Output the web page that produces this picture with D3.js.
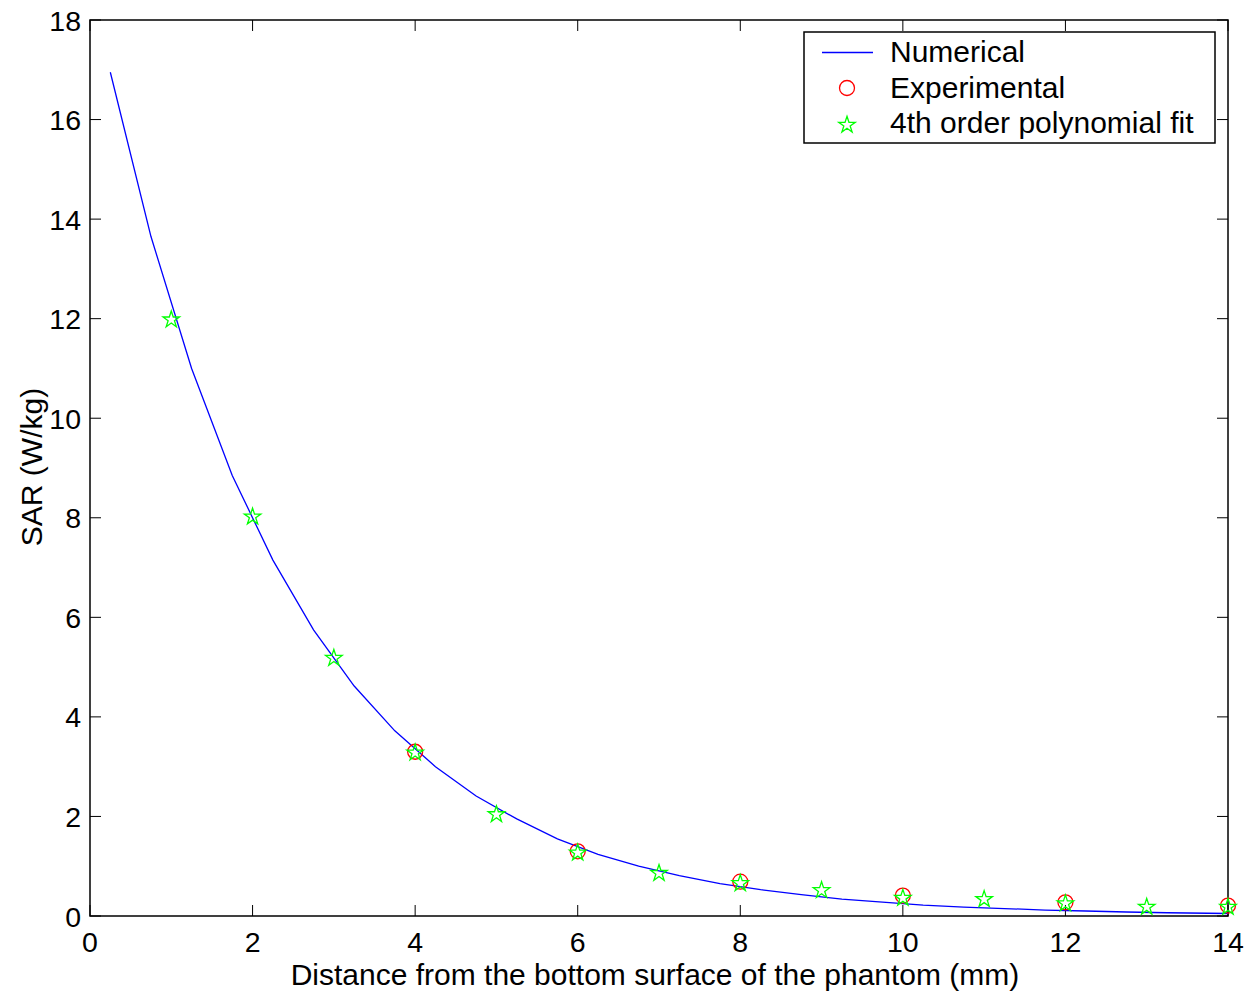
<!DOCTYPE html>
<html><head><meta charset="utf-8">
<script src="https://cdn.jsdelivr.net/npm/d3@7"></script>
<style>body{margin:0;background:#fff}svg{display:block}text{font-family:"Liberation Sans",Arial,sans-serif;fill:#000}</style>
</head><body><svg id="c" width="1257" height="998"></svg>
<script>
const numX = [0.25,0.75,1.25,1.75,2.25,2.75,3.25,3.75,4.25,4.75,5.25,5.75,6.25,6.75,7.25,7.75,8.25,8.75,9.25,9.75,10.25,10.75,11.25,11.75,12.25,12.75,13.25,13.75,14.0];
const numY = [16.95,13.65,11.0,8.85,7.15,5.75,4.62,3.72,3.0,2.41,1.95,1.55,1.24,1.0,0.81,0.65,0.53,0.43,0.34,0.28,0.22,0.18,0.15,0.12,0.10,0.08,0.065,0.055,0.05];
const expX = [4,6,8,10,12,14];
const expY = [3.3,1.3,0.69,0.41,0.275,0.21];
const fitX = [1,2,3,4,5,6,7,8,9,10,11,12,13,14];
const fitY = [12.0,8.04,5.2,3.3,2.06,1.29,0.88,0.675,0.535,0.38,0.355,0.27,0.2,0.2];
const xTicks = [0,2,4,6,8,10,12,14];
const yTicks = [0,2,4,6,8,10,12,14,16,18];
const legendLabels = ["Numerical","Experimental","4th order polynomial fit"];

const L=90,R=1228,T=20,B=916;
const svg=d3.select("#c");
const x=d3.scaleLinear().domain([0,14]).range([L,R]);
const y=d3.scaleLinear().domain([0,18]).range([B,T]);
const tl=11, fs=28.5;

const g=svg.append("g");
g.selectAll(".xb").data(xTicks).join("line").attr("x1",d=>x(d)).attr("x2",d=>x(d)).attr("y1",B).attr("y2",B-tl).attr("stroke","#000").attr("stroke-width",1);
g.selectAll(".xt").data(xTicks).join("line").attr("x1",d=>x(d)).attr("x2",d=>x(d)).attr("y1",T).attr("y2",T+tl).attr("stroke","#000").attr("stroke-width",1);
g.selectAll(".yl").data(yTicks).join("line").attr("y1",d=>y(d)).attr("y2",d=>y(d)).attr("x1",L).attr("x2",L+tl).attr("stroke","#000").attr("stroke-width",1);
g.selectAll(".yr").data(yTicks).join("line").attr("y1",d=>y(d)).attr("y2",d=>y(d)).attr("x1",R).attr("x2",R-tl).attr("stroke","#000").attr("stroke-width",1);
svg.append("rect").attr("x",L).attr("y",T).attr("width",R-L).attr("height",B-T).attr("fill","none").attr("stroke","#000").attr("stroke-width",1.5);

svg.selectAll(".xlab").data(xTicks).join("text").attr("x",d=>x(d)).attr("y",952).attr("text-anchor","middle").attr("font-size",fs).text(d=>d);
svg.selectAll(".ylab").data(yTicks).join("text").attr("x",L-9).attr("y",d=>y(d)+10.5).attr("text-anchor","end").attr("font-size",fs).text(d=>d);

svg.append("text").attr("x",655).attr("y",985).attr("text-anchor","middle").attr("font-size",30).text("Distance from the bottom surface of the phantom (mm)");
svg.append("text").attr("transform","translate(42,467) rotate(-90)").attr("text-anchor","middle").attr("font-size",30).text("SAR (W/kg)");

const line=d3.line().x((d,i)=>x(numX[i])).y(d=>y(d));
svg.append("path").datum(numY).attr("d",line).attr("fill","none").attr("stroke","#0000ff").attr("stroke-width",1.3);

const star=d3.symbol().type(d3.symbolStar).size(85);
function drawCircle(sel,cx,cy){sel.append("circle").attr("cx",cx).attr("cy",cy).attr("r",7.5).attr("fill","none").attr("stroke","#ff0000").attr("stroke-width",1.3);}
function drawStar(sel,cx,cy){sel.append("path").attr("d",star()).attr("transform",`translate(${cx},${cy+1})`).attr("fill","none").attr("stroke","#00ff00").attr("stroke-width",1.3);}
expX.forEach((v,i)=>drawCircle(svg,x(v),y(expY[i])));
fitX.forEach((v,i)=>drawStar(svg,x(v),y(fitY[i])));

const lg=svg.append("g");
lg.append("rect").attr("x",804).attr("y",32).attr("width",411).attr("height",111).attr("fill","#fff").attr("stroke","#000").attr("stroke-width",1.5);
const rows=[52.5,88,124];
lg.append("line").attr("x1",822).attr("x2",873).attr("y1",rows[0]).attr("y2",rows[0]).attr("stroke","#0000ff").attr("stroke-width",1.3);
drawCircle(lg,847,rows[1]);
drawStar(lg,847,rows[2]);
lg.selectAll(".lt").data(legendLabels).join("text").attr("x",890).attr("y",(d,i)=>[62,98,133][i]).attr("font-size",30).text(d=>d);
</script></body></html>
